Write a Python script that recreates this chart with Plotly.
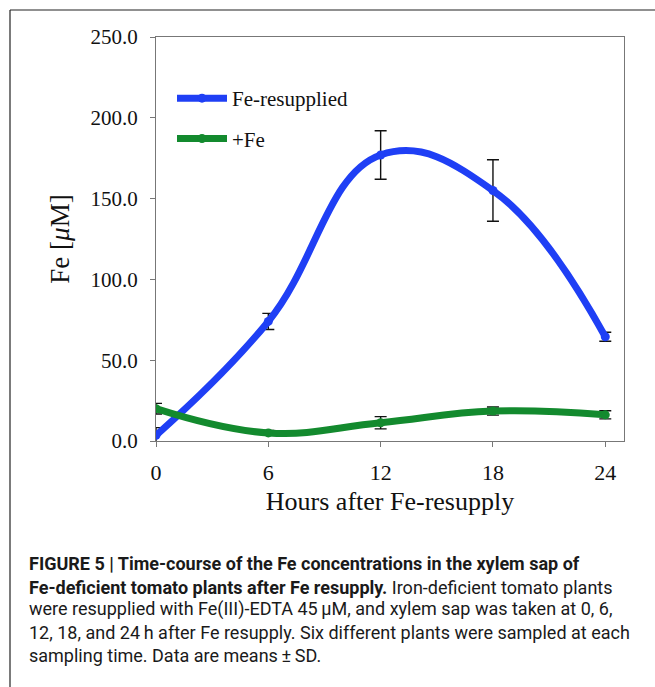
import plotly.graph_objects as go

hours = [0, 6, 12, 18, 24]
fe_resupplied = [3.5, 74.0, 177.0, 155.0, 64.5]
fe_resupplied_sd = [4.8, 5.0, 15.0, 19.0, 2.8]
plus_fe = [20.0, 5.0, 11.3, 18.5, 16.2]
plus_fe_sd = [3.3, 1.5, 3.8, 2.5, 2.5]

x_ticks = [0, 6, 12, 18, 24]
y_ticks = [0, 50, 100, 150, 200, 250]

caption_lines = [
    "<b>FIGURE 5 | Time-course of the Fe concentrations in the xylem sap of</b>",
    "<b>Fe-deficient tomato plants after Fe resupply.</b> Iron-deficient tomato plants",
    "were resupplied with Fe(III)-EDTA 45\u2009\u03bcM, and xylem sap was taken at 0, 6,",
    "12, 18, and 24\u2009h after Fe resupply. Six different plants were sampled at each",
    "sampling time. Data are means\u2009\u00b1\u2009SD.",
]

BLUE = "#1f3ff5"
GREEN = "#138a2e"
SERIF = "Liberation Serif, Times New Roman, serif"
CAP_FONT = "Roboto, Liberation Sans, sans-serif"

W, H = 655, 687
L, R, T, B = 156, 31, 37, 246
PW, PH = W - L - R, H - T - B

def px(x):
    return (x - L) / PW

def py(y):
    return (H - B - y) / PH

fig = go.Figure()

for ys, sd in [(fe_resupplied, fe_resupplied_sd), (plus_fe, plus_fe_sd)]:
    fig.add_trace(go.Scatter(
        x=hours, y=ys, mode="markers", marker=dict(size=1, opacity=0),
        error_y=dict(type="data", array=sd, visible=True, color="#111111",
                     thickness=1.4, width=6),
        showlegend=False, hoverinfo="skip", cliponaxis=True,
    ))

fig.add_trace(go.Scatter(
    x=hours, y=fe_resupplied, name="Fe-resupplied", mode="lines+markers",
    legendgroup="a",
    line=dict(color=BLUE, width=7, shape="spline", smoothing=1.2),
    marker=dict(color=BLUE, size=9),
))
fig.add_trace(go.Scatter(
    x=hours, y=plus_fe, name="+Fe", mode="lines+markers",
    legendgroup="b",
    line=dict(color=GREEN, width=7, shape="spline", smoothing=1.2),
    marker=dict(color=GREEN, size=9),
))

shapes = [
    dict(type="line", xref="paper", yref="paper", x0=px(10), x1=px(655),
         y0=py(10), y1=py(10), line=dict(color="#222222", width=1.2)),
    dict(type="line", xref="paper", yref="paper", x0=px(10), x1=px(10),
         y0=py(10), y1=py(690), line=dict(color="#222222", width=1.2)),
]

annotations = []
cap_y = [563, 587, 609, 632, 655]
for txt, yy in zip(caption_lines, cap_y):
    annotations.append(dict(
        text=txt, xref="paper", yref="paper", x=px(27), y=py(yy),
        xanchor="left", yanchor="middle", showarrow=False,
        font=dict(family=CAP_FONT, size=18, color="#1a1a1a"), align="left",
    ))

fig.update_layout(
    width=W, height=H,
    margin=dict(l=L, r=R, t=T, b=B, pad=0),
    paper_bgcolor="white", plot_bgcolor="white",
    shapes=shapes, annotations=annotations,
    showlegend=True,
    legend=dict(x=px(172), y=py(78), xanchor="left", yanchor="top",
                bgcolor="rgba(0,0,0,0)", font=dict(family=SERIF, size=21, color="#111111"),
                itemwidth=50, tracegroupgap=10, traceorder="grouped"),
    xaxis=dict(
        range=[0, 25], tickvals=x_ticks, ticktext=[str(v) for v in x_ticks],
        showgrid=False, zeroline=False, showline=True, linecolor="#777777", linewidth=1.3,
        mirror=True, ticks="outside", ticklen=5, tickcolor="#777777",
        tickfont=dict(family=SERIF, size=22, color="#111111"),
        ticklabelstandoff=6,
        title=dict(text="Hours after Fe-resupply", standoff=8,
                   font=dict(family=SERIF, size=26, color="#111111")),
    ),
    yaxis=dict(
        range=[0, 250], tickvals=y_ticks, ticktext=[f"{v:.1f}" for v in y_ticks],
        showgrid=False, zeroline=False, showline=True, linecolor="#777777", linewidth=1.3,
        mirror=True, ticks="outside", ticklen=5, tickcolor="#777777",
        tickfont=dict(family=SERIF, size=21, color="#111111"),
        ticklabelstandoff=8,
        title=dict(text="Fe [<i>\u03bc</i>M]", standoff=12,
                   font=dict(family=SERIF, size=27, color="#111111")),
    ),
)

fig.write_html("out.html")
